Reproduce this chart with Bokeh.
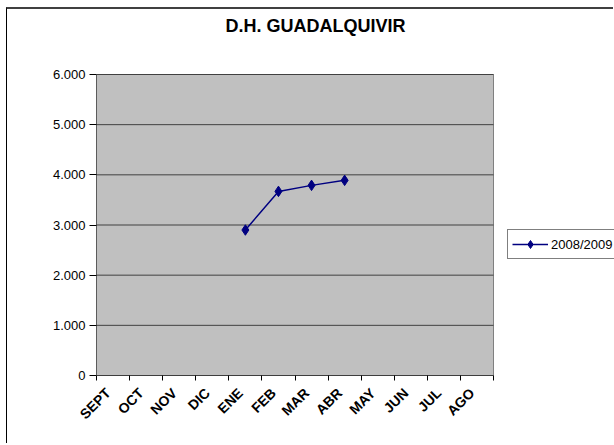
import numpy as np
from bokeh.plotting import figure
from bokeh.models import FixedTicker, Label, Legend, LegendItem, Range1d
from bokeh.embed import file_html
from bokeh.resources import INLINE

title_text = "D.H. GUADALQUIVIR"
months = ["SEPT", "OCT", "NOV", "DIC", "ENE", "FEB", "MAR", "ABR", "MAY", "JUN", "JUL", "AGO"]
series_name = "2008/2009"
series_months = ["ENE", "FEB", "MAR", "ABR"]
series_values = [2900, 3670, 3790, 3890]
y_ticks = [0, 1000, 2000, 3000, 4000, 5000, 6000]
y_tick_labels = ["0", "1.000", "2.000", "3.000", "4.000", "5.000", "6.000"]

FONT = "Liberation Sans"

# canvas sits at page (7, 9) after CSS margin + border
W, H = 607, 436
FL, FB = 89, 366          # frame left / bottom (canvas px); frame spans to top & right edges
PLOT_W, PLOT_H = 397, 301  # size of the grey plot area in px
n = len(months)
ymax = max(y_ticks)
x_end = n * (W - FL) / PLOT_W
y_end = ymax * FB / PLOT_H
LABEL_SHIFT = -5 * n / PLOT_W   # nudge rotated month labels 5px left

p = figure(width=W, height=H, output_backend="svg", toolbar_location=None,
           x_range=Range1d(0, x_end), y_range=Range1d(0, y_end),
           min_border_left=FL, min_border_top=0,
           min_border_right=0, min_border_bottom=H - FB,
           background_fill_color="white", border_fill_color="white",
           outline_line_color=None)
p.styles = {"margin-left": "6px", "margin-top": "7px",
            "border-top": "2px solid #404040", "border-left": "1px solid #000000"}

# grey plot area, grid lines and axis lines
p.quad(left=[0], right=[n], bottom=[0], top=[ymax],
       fill_color="#C0C0C0", line_color="#808080", line_width=1)
p.segment(x0=[0] * len(y_ticks), x1=[n] * len(y_ticks), y0=y_ticks, y1=y_ticks,
          line_color="#404040", line_width=1)
p.segment(x0=[0, 0], x1=[0, n], y0=[0, 0], y1=[ymax, 0],
          line_color="black", line_width=1)

xs = [months.index(m) + 0.5 for m in series_months]
line = p.line(xs, series_values, line_color="#000080", line_width=1.5)
pts = p.scatter(xs, series_values, marker="diamond", size=10.5,
                fill_color="#000080", line_color="#000080")

# x axis: boundary tick marks (minor), labels at category centres (major)
label_pos = [i + 0.5 + LABEL_SHIFT for i in range(n)]
xa = p.xaxis[0]
xa.ticker = FixedTicker(ticks=label_pos, minor_ticks=list(range(n + 1)))
xa.major_label_overrides = {c: m for c, m in zip(label_pos, months)}
xa.major_tick_line_color = None
xa.minor_tick_line_color = "black"
xa.minor_tick_out = 5
xa.minor_tick_in = 0
xa.axis_line_color = None
xa.major_label_orientation = np.pi / 4
xa.major_label_text_font = FONT
xa.major_label_text_font_style = "bold"
xa.major_label_text_font_size = "14px"
xa.major_label_text_color = "black"
xa.major_label_standoff = 9

ya = p.yaxis[0]
ya.ticker = FixedTicker(ticks=y_ticks, minor_ticks=[])
ya.major_label_overrides = {t: l for t, l in zip(y_ticks, y_tick_labels)}
ya.major_tick_out = 7
ya.major_tick_in = 0
ya.axis_line_color = None
ya.major_tick_line_color = "black"
ya.major_label_text_font = FONT
ya.major_label_text_font_size = "13px"
ya.major_label_text_color = "black"
ya.major_label_standoff = 4

p.xgrid.grid_line_color = None
p.ygrid.grid_line_color = None

title = Label(x=308 - FL, y=FB - 16, x_units="screen", y_units="screen",
              text=title_text, text_align="center", text_baseline="middle",
              text_font=FONT, text_font_style="bold", text_font_size="18px",
              text_color="black")
p.add_layout(title)

legend = Legend(items=[LegendItem(label=series_name, renderers=[line, pts])],
                location=(500 - FL, FB - 250), orientation="vertical",
                glyph_width=36, glyph_height=20, label_height=20,
                label_standoff=3, padding=4, spacing=0, margin=0,
                border_line_color="black", border_line_width=1,
                background_fill_color="white", background_fill_alpha=1,
                label_text_font=FONT, label_text_font_size="13px",
                label_text_color="black")
p.add_layout(legend)

open("out.html", "w").write(file_html(p, INLINE))
